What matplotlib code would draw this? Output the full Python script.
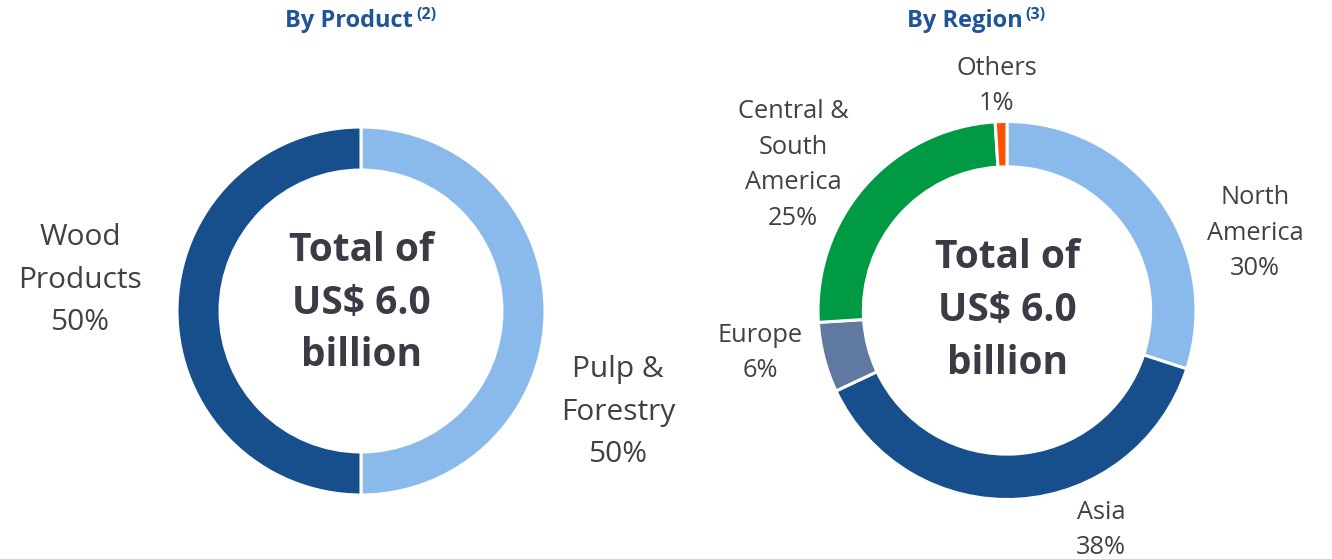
import matplotlib
matplotlib.use('Agg')
import matplotlib.pyplot as plt

# Data
product_labels = ["Pulp &\nForestry\n50%", "Wood\nProducts\n50%"]
product_values = [50, 50]
product_colors = ["#8AB9EB", "#174F8C"]

region_labels = ["North\nAmerica\n30%", "Asia\n38%", "Europe\n6%",
                 "Central &\nSouth\nAmerica\n25%", "Others\n1%"]
region_values = [30, 38, 6, 25, 1]
region_colors = ["#8AB9EB", "#174F8C", "#6079A0", "#009A44", "#FF5000"]

center_text = "Total of\nUS$ 6.0\nbillion"

# label positions in units of pie radius
product_label_pos = [(1.397, -0.549), (-1.527, 0.168)]
region_label_pos = [(1.312, 0.410), (0.497, -1.161), (-1.307, -0.225),
                    (-1.132, 0.770), (-0.053, 1.188)]

plt.rcParams['font.family'] = ['Open Sans', 'DejaVu Sans']
W, H = 1332, 559
fig = plt.figure(figsize=(W / 100, H / 100), dpi=100)

label_color = "#404048"
title_color = "#1F5496"
center_color = "#3B3B45"


def donut(cx, cy, r, width, values, colors, labels, positions, fs, ls, center_y):
    ax = fig.add_axes([(cx - r) / W, (H - cy - r) / H, 2 * r / W, 2 * r / H])
    ax.pie(values, colors=colors, startangle=90, counterclock=False,
           radius=1.0, wedgeprops=dict(width=width, edgecolor="white", linewidth=2.2))
    ax.set_xlim(-1, 1)
    ax.set_ylim(-1, 1)
    ax.set_aspect('equal')
    ax.axis('off')
    for lab, (x, y) in zip(labels, positions):
        ax.text(x, y, lab, ha='center', va='center', fontsize=fs, color=label_color,
                linespacing=ls, clip_on=False)
    ax.text(0, center_y, center_text, ha='center', va='center', fontsize=28,
            fontweight='bold', color=center_color, linespacing=1.45)
    return ax


donut(361, 311, 184, 0.234, product_values, product_colors, product_labels,
      product_label_pos, 21.5, 1.6, 0.043)
donut(1007, 310.5, 189, 0.24, region_values, region_colors, region_labels,
      region_label_pos, 18.3, 1.56, 0.0)

# Titles with superscript notes
fig.text(285 / W, 1 - 21 / H, "By Product", ha='left', va='center', fontsize=17,
         fontweight='bold', color=title_color)
fig.text(416 / W, 1 - 15 / H, "(2)", ha='left', va='center', fontsize=11.5,
         fontweight='bold', color=title_color)
fig.text(907 / W, 1 - 21 / H, "By Region", ha='left', va='center', fontsize=17,
         fontweight='bold', color=title_color)
fig.text(1025 / W, 1 - 15 / H, "(3)", ha='left', va='center', fontsize=11.5,
         fontweight='bold', color=title_color)

fig.savefig("out.png", dpi=100)
